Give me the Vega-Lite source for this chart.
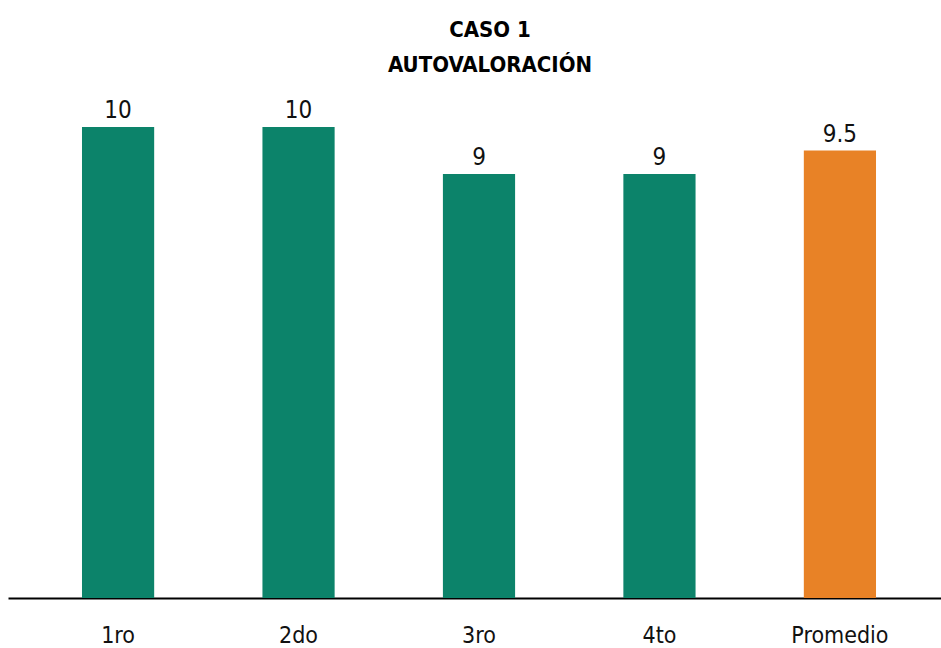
{
  "$schema": "https://vega.github.io/schema/vega-lite/v6.json",
  "autosize": {"type": "none"},
  "padding": {"left": 8, "top": 127, "right": 0, "bottom": 50},
  "width": 942,
  "height": 471,
  "background": "white",
  "title": {
    "text": ["CASO 1", "AUTOVALORACIÓN"],
    "font": "DejaVu Sans Condensed, DejaVu Sans, sans-serif",
    "fontSize": 22,
    "fontWeight": "bold",
    "color": "#000000",
    "lineHeight": 35,
    "anchor": "start",
    "dx": 482,
    "align": "center",
    "offset": 22
  },
  "data": {
    "values": [
      {"cat": "1ro", "value": 10, "group": "a"},
      {"cat": "2do", "value": 10, "group": "a"},
      {"cat": "3ro", "value": 9, "group": "a"},
      {"cat": "4to", "value": 9, "group": "a"},
      {"cat": "Promedio", "value": 9.5, "group": "b"}
    ]
  },
  "encoding": {
    "x": {
      "field": "cat",
      "type": "nominal",
      "sort": null,
      "scale": {"paddingInner": 0.6, "paddingOuter": 0.41},
      "axis": {
        "title": null,
        "labelAngle": 0,
        "ticks": false,
        "domainColor": "#000000",
        "domainWidth": 2,
        "labelFont": "DejaVu Sans Condensed, DejaVu Sans, sans-serif",
        "labelFontSize": 23,
        "labelColor": "#111111",
        "labelPadding": 26
      }
    },
    "y": {
      "field": "value",
      "type": "quantitative",
      "scale": {"domain": [0, 10], "nice": false},
      "axis": null
    }
  },
  "layer": [
    {
      "mark": {"type": "bar"},
      "encoding": {
        "color": {
          "field": "group",
          "type": "nominal",
          "scale": {"domain": ["a", "b"], "range": ["#0c836a", "#e88226"]},
          "legend": null
        }
      }
    },
    {
      "mark": {
        "type": "text",
        "baseline": "alphabetic",
        "dy": -9,
        "font": "DejaVu Sans Condensed, DejaVu Sans, sans-serif",
        "fontSize": 24,
        "color": "#111111"
      },
      "encoding": {"text": {"field": "value", "type": "quantitative"}}
    }
  ],
  "config": {"view": {"stroke": null}}
}
